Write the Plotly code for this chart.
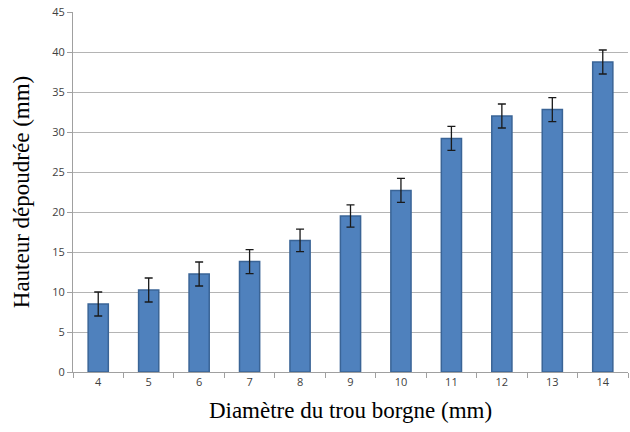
import plotly.graph_objects as go

diametres = ["4", "5", "6", "7", "8", "9", "10", "11", "12", "13", "14"]
hauteurs = [8.5, 10.25, 12.25, 13.8, 16.45, 19.5, 22.7, 29.2, 32.0, 32.8, 38.75]
erreurs = [1.5, 1.5, 1.5, 1.5, 1.4, 1.4, 1.5, 1.5, 1.5, 1.5, 1.5]
y_ticks = [0, 5, 10, 15, 20, 25, 30, 35, 40, 45]

fig = go.Figure(go.Bar(
    x=diametres, y=hauteurs,
    marker=dict(color="#4f81bd", line=dict(color="#3a6496", width=1.5)),
    error_y=dict(type="data", array=erreurs, color="#1a1a1a", thickness=1.3, width=4),
))

fig.update_layout(
    width=630, height=432,
    margin=dict(l=73, r=2, t=12, b=60),
    plot_bgcolor="white", paper_bgcolor="white",
    bargap=0.6, showlegend=False,
    xaxis=dict(
        type="category",
        title=dict(text="Diamètre du trou borgne (mm)", font=dict(family="Liberation Serif", size=23, color="black"), standoff=13),
        tickfont=dict(family="Open Sans", size=11, color="#404040"),
        ticks="outside", tickson="boundaries", ticklen=5, tickcolor="#a0a0a0",
        showline=True, linecolor="#a0a0a0", linewidth=1,
        showgrid=False,
    ),
    yaxis=dict(
        range=[0, 45], tickvals=y_ticks,
        title=dict(text="Hauteur dépoudrée (mm)", font=dict(family="Liberation Serif", size=23, color="black"), standoff=16),
        tickfont=dict(family="Open Sans", size=11, color="#404040"),
        ticks="outside", ticklen=5, tickcolor="#a0a0a0",
        showline=True, linecolor="#a0a0a0", linewidth=1,
        showgrid=True, gridcolor="#b4b4b4", gridwidth=1,
        zeroline=False,
    ),
)

fig.write_html("out.html", config={"displayModeBar": False},
               post_script="document.body.style.margin='0';")
